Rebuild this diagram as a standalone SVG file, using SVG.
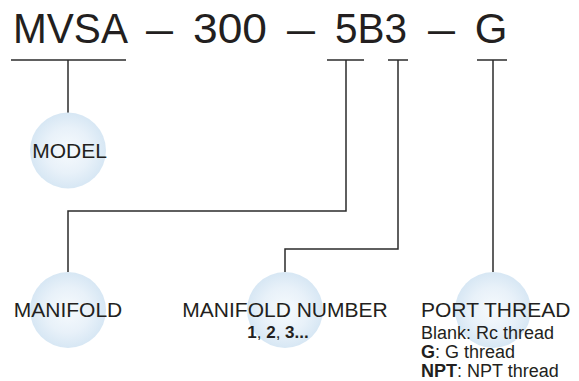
<svg xmlns="http://www.w3.org/2000/svg" width="579" height="381" viewBox="0 0 579 381">
  <defs>
    <radialGradient id="bubble" cx="50%" cy="50%" r="50%">
      <stop offset="0" stop-color="#f6fafd"/>
      <stop offset="0.6" stop-color="#e8f1f9"/>
      <stop offset="1" stop-color="#d7e7f4"/>
    </radialGradient>
    <style>
      .code { font-family: "Liberation Sans", Arial, sans-serif; font-size: 42px; fill: #231f20; text-anchor: middle; }
      .lbl { font-family: "Liberation Sans", Arial, sans-serif; font-size: 21px; fill: #231f20; }
      .sub { font-family: "Liberation Sans", Arial, sans-serif; font-size: 18px; fill: #231f20; }
      .num { font-family: "Liberation Sans", Arial, sans-serif; font-size: 17px; fill: #231f20; }
      .b { font-weight: bold; }
      .ln { fill: none; stroke: #2b2b2b; stroke-width: 1.5; }
      .bub { fill: url(#bubble); }
    </style>
  </defs>
  <rect width="579" height="381" fill="#ffffff"/>

  <g id="code">
    <text class="code" y="43" x="70.5" textLength="115" lengthAdjust="spacingAndGlyphs">MVSA</text>
    <text class="code" y="43" x="159.5" textLength="27" lengthAdjust="spacingAndGlyphs">–</text>
    <text class="code" y="43" x="230" textLength="74" lengthAdjust="spacingAndGlyphs">300</text>
    <text class="code" y="43" x="301" textLength="28" lengthAdjust="spacingAndGlyphs">–</text>
    <text class="code" y="43" x="371" textLength="72" lengthAdjust="spacingAndGlyphs">5B3</text>
    <text class="code" y="43" x="441.5" textLength="27" lengthAdjust="spacingAndGlyphs">–</text>
    <text class="code" y="43" x="491">G</text>
  </g>

  <g id="connectors">
    <line class="ln" x1="11" y1="60" x2="126" y2="60"/>
    <line class="ln" x1="327" y1="60" x2="364" y2="60"/>
    <line class="ln" x1="388" y1="60" x2="408" y2="60"/>
    <line class="ln" x1="477" y1="60" x2="507" y2="60"/>
    <polyline class="ln" points="68,60 68,113"/>
    <polyline class="ln" points="346,60 346,211 68,211 68,272"/>
    <polyline class="ln" points="398,60 398,249 285,249 285,272"/>
    <polyline class="ln" points="493,60 493,272"/>
  </g>

  <g id="model">
    <circle class="bub" cx="68" cy="150.5" r="38"/>
    <text class="lbl" x="69.5" y="158" text-anchor="middle">MODEL</text>
  </g>

  <g id="manifold">
    <circle class="bub" cx="68" cy="310" r="38"/>
    <text class="lbl" x="68" y="317" text-anchor="middle">MANIFOLD</text>
  </g>

  <g id="manifold-number">
    <circle class="bub" cx="285" cy="310" r="38"/>
    <text class="lbl" x="285" y="317" text-anchor="middle">MANIFOLD NUMBER</text>
    <text class="num" x="278" y="338" text-anchor="middle"><tspan class="b">1</tspan>, <tspan class="b">2</tspan>, <tspan class="b">3...</tspan></text>
  </g>

  <g id="port-thread">
    <circle class="bub" cx="493" cy="310" r="38"/>
    <text class="lbl" x="421" y="317">PORT THREAD</text>
    <text class="sub" x="421" y="339">Blank: Rc thread</text>
    <text class="sub" x="421" y="358"><tspan class="b">G</tspan>: G thread</text>
    <text class="sub" x="421" y="377"><tspan class="b">NPT</tspan>: NPT thread</text>
  </g>
</svg>
